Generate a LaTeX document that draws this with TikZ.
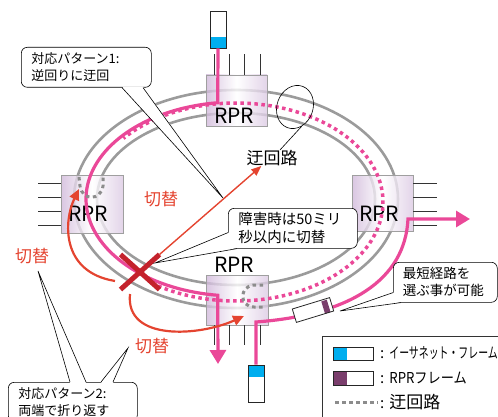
\documentclass[tikz,border=0pt]{standalone}
\usepackage{fontspec}
\setmainfont{Noto Sans CJK JP}
\usepackage{graphicx}
\usetikzlibrary{arrows.meta,shapes.geometric,shapes.misc}

\definecolor{ringgray}{RGB}{155,155,155}
\definecolor{foldgray}{RGB}{140,140,140}
\definecolor{ringpink}{RGB}{234,72,152}
\definecolor{switchred}{RGB}{228,68,48}
\definecolor{faultred}{RGB}{196,34,44}
\definecolor{ethcyan}{RGB}{0,174,239}
\definecolor{rprplum}{RGB}{122,62,108}
\definecolor{nodelav}{RGB}{208,184,218}

\tikzset{
  ring/.style={ringgray, line width=2.6pt},
  rprbox/.style={draw=gray!75, line width=0.8pt, left color=nodelav, right color=nodelav!75!white, middle color=white, fill opacity=0.8, inner sep=0pt},
  rprlabel/.style={font=\fontsize{21}{21}\selectfont, inner sep=0pt},
  stub/.style={black!80, line width=0.8pt},
  route/.style={ringpink, line width=3.2pt},
  detour/.style={ringpink, line width=3.5pt, dash pattern=on 3.5pt off 3.5pt},
  fold/.style={foldgray, line width=3pt, dash pattern=on 3.5pt off 3.5pt},
  switcharrow/.style={switchred, line width=2.2pt, -{Triangle[width=10pt,length=11pt]}},
  redtext/.style={switchred, font=\fontsize{17}{17}\selectfont, inner sep=0pt},
  callout/.style={draw, rounded corners=6pt, fill=white, line width=0.6pt, align=left, anchor=north west, inner xsep=10pt, inner ysep=0pt, font=\fontsize{13}{17}\selectfont},
  tail/.style={line width=0.6pt},
  frameicon/.style={draw=black!85, line width=0.8pt, fill=white, inner sep=0pt},
  tagbottom/.style={path picture={\fill[#1] (path picture bounding box.south west) rectangle ([yshift=11pt]path picture bounding box.south east);}},
  tagtop/.style={path picture={\fill[#1] (path picture bounding box.north west) rectangle ([yshift=-12pt]path picture bounding box.north east);}},
  tagleft/.style={path picture={\fill[#1] (path picture bounding box.south west) rectangle ([xshift=14pt]path picture bounding box.north west);}},
  tagright/.style={path picture={\fill[#1] (path picture bounding box.south east) rectangle ([xshift=-13pt]path picture bounding box.north east);}},
  legendtext/.style={anchor=west, inner sep=0pt, font=\fontsize{15}{15}\selectfont}
}

\begin{document}
\begin{tikzpicture}[x=1pt,y=-1pt]
\useasboundingbox (0,0) rectangle (498,417);

% ring
\draw[ring] (236,199) ellipse [x radius=162, y radius=109];
\draw[ring] (236,199) ellipse [x radius=139, y radius=86];

% stations
\node[rprbox, minimum width=61, minimum height=51] (rprtop) at (236.5,100.5) {};
\node[rprbox, minimum width=62, minimum height=58] (rprleft) at (92,204) {};
\node[rprbox, minimum width=61, minimum height=56] (rprright) at (382.5,203) {};
\node[rprbox, minimum width=62, minimum height=50] (rprbottom) at (237,300) {};
\node[rprlabel] (rprtoplabel) at (234,116) {RPR};
\node[rprlabel] (rprleftlabel) at (88,214) {RPR};
\node[rprlabel] (rprrightlabel) at (379,214) {RPR};
\node[rprlabel] (rprbottomlabel) at (234,265) {RPR};

\foreach \x in {214,229,244,260} {
  \draw[stub] (\x,0 |- rprtop.north) -- ++(0,-21);
  \draw[stub] (\x,0 |- rprbottom.south) -- ++(0,20);
}
\foreach \y in {183,197,211,225} {
  \draw[stub] (rprleft.west |- 0,\y) -- ++(-23,0);
  \draw[stub] (rprright.east |- 0,\y) -- ++(24,0);
}

% frames
\node[frameicon, tagbottom=ethcyan, minimum width=16, minimum height=37] (ethtop) at (218,29.5) {};
\node[frameicon, tagtop=ethcyan, minimum width=16, minimum height=37] (ethbottom) at (256,383.5) {};
\coordinate (exitbottom) at (218,364);
\coordinate (exitright) at (470,219);

% detour (pattern 1)
\draw[detour] plot[domain=-122:140, samples=120] ({236+147*cos(\x)},{202-99*sin(\x)});

% routes
\draw[route, -{Triangle[width=16pt,length=14pt]}] (ethtop.south) -- plot[domain=97:263, samples=90] ({236+150*cos(\x)},{199-97*sin(\x)}) -- (exitbottom);
\draw[route, -{Triangle[width=16pt,length=14pt]}] (ethbottom.north) -- (ethbottom.north |- 0,322) .. controls (350,315) and (405,280) .. (408,219) -- (exitright);
\node[frameicon, tagright=rprplum, rotate=17, minimum width=39, minimum height=14] (rprframe) at (313,310) {};

% fold back (pattern 2)
\draw[fold] (79,177) -- (80,186) .. controls (82,201) and (101,201) .. (103,186) -- (103,177);
\draw[fold] (263,285) -- (254,285) .. controls (239,286) and (239,307) .. (254,307) -- (263,307);

% fault
\node[cross out, draw=faultred, line width=5pt, minimum width=34, minimum height=30, inner sep=0pt] (fault) at (140,272) {};

% switching
\node[font=\fontsize{17}{17}\selectfont, inner sep=0pt] (detourlabel) at (272,158) {迂回路};
\node[ellipse, draw, line width=0.6pt, rotate=-20, minimum width=36, minimum height=44, inner sep=0pt] (detourloop) at (295,107) {};
\draw[line width=0.6pt] ([xshift=8]detourlabel.north) -- (detourloop.south east);
\coordinate (leftfold) at (79,189);
\coordinate (bottomfold) at (244,316);
\draw[switcharrow] ([xshift=-25,yshift=-9]fault.center) .. controls (60,272) and (64,220) .. (leftfold);
\draw[switcharrow] ([xshift=-10,yshift=-22]fault.center) .. controls (125,342) and (200,336) .. (bottomfold);
\draw[switchred, line width=1.4pt, -{Triangle[width=8pt,length=10pt]}] (fault.north east) -- ([xshift=15]detourlabel.south west);
\node[redtext] (switchmid) at (161,199) {切替};
\node[redtext] (switchleft) at (32,256) {切替};
\node[redtext] (switchlow) at (152,346) {切替};

% callouts
\node[callout, minimum width=130, minimum height=40, text width=110] (pat1) at (21,47) {対応パターン1:\\逆回りに迂回};
\coordinate (pat1tip) at (223,198);
\fill[white] ([xshift=101,yshift=1]pat1.south west) -- (pat1tip) -- ([xshift=122,yshift=1]pat1.south west) -- cycle;
\draw[tail] ([xshift=101]pat1.south west) -- (pat1tip) -- ([xshift=122]pat1.south west);

\node[callout, font=\fontsize{14.5}{18}\selectfont, minimum width=129, minimum height=40, text width=109] (pat2) at (228,208) {障害時は50ミリ\\秒以内に切替};
\coordinate (pat2tip) at (155,263);
\fill[white] ([xshift=0.6,yshift=16]pat2.south west) -- (pat2tip) -- ([xshift=9,yshift=0.6]pat2.south west) -- cycle;
\draw[tail] ([yshift=16]pat2.south west) -- (pat2tip) -- ([xshift=9]pat2.south west);

\node[callout, font=\fontsize{13.5}{17}\selectfont, minimum width=104, minimum height=40, text width=85, inner xsep=9pt] (pat3) at (393,262) {最短経路を\\選ぶ事が可能};
\coordinate (pat3tip) at (340,311);
\fill[white] ([xshift=0.6,yshift=10]pat3.south west) -- (pat3tip) -- ([xshift=8,yshift=0.6]pat3.south west) -- cycle;
\draw[tail] ([yshift=10]pat3.south west) -- (pat3tip) -- ([xshift=8]pat3.south west);

\node[callout, inner ysep=5pt, minimum width=129, text width=109] (pat4) at (8,382) {対応パターン2:\\両端で折り返す};
\coordinate (pat4tipa) at (38,271);
\coordinate (pat4tipb) at (128,348);
\fill[white] ([xshift=62,yshift=-1]pat4.north west) -- (pat4tipa) -- ([xshift=78,yshift=-1]pat4.north west) -- cycle;
\draw[tail] ([xshift=62]pat4.north west) -- (pat4tipa) -- ([xshift=78]pat4.north west);
\fill[white] ([xshift=93,yshift=-1]pat4.north west) -- (pat4tipb) -- ([xshift=105,yshift=-1]pat4.north west) -- cycle;
\draw[tail] ([xshift=93]pat4.north west) -- (pat4tipb) -- ([xshift=105]pat4.north west);

% legend
\node[draw=black!80, line width=0.8pt, anchor=north west, minimum width=185, minimum height=95, inner sep=0pt] (legend) at (322,336) {};
\node[frameicon, tagleft=ethcyan, minimum width=40, minimum height=13] (legeth) at (353,353.5) {};
\node[frameicon, tagleft=rprplum, minimum width=40, minimum height=14] (legrpr) at (353,378) {};
\draw[fold] (335,402) -- (378,402);
\node[legendtext] (legethtext) at (380,353.5) {:\hspace{5pt}\scalebox{0.66}[1]{イーサネット・フレーム}};
\node[legendtext] (legrprtext) at (380,378) {:\hspace{5pt}\scalebox{0.88}[1]{RPRフレーム}};
\node[legendtext] (legdetourtext) at (380,402) {:\hspace{5pt}\fontsize{17}{17}\selectfont 迂回路};

\end{tikzpicture}
\end{document}
